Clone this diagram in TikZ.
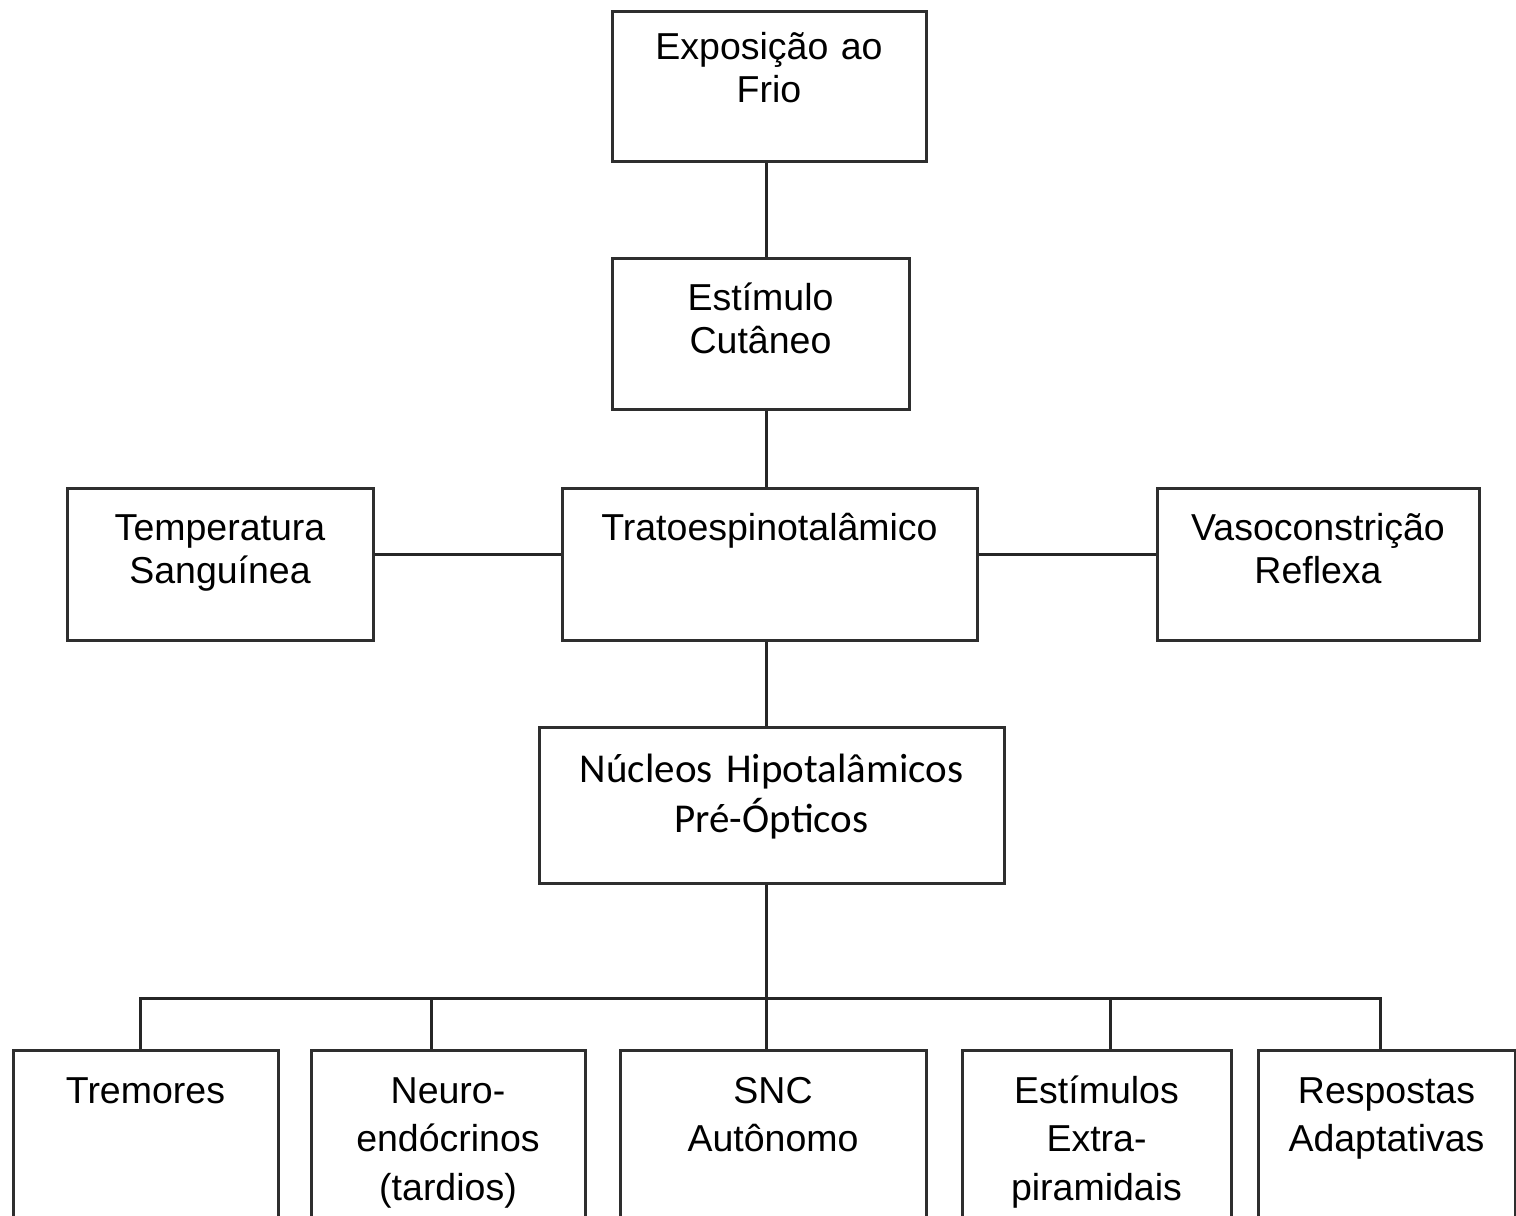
\documentclass[tikz,border=0pt]{standalone}
\usepackage{fontspec}
\setmainfont{Liberation Sans}
\newfontfamily\calibfont{Carlito}
\begin{document}
\begin{tikzpicture}[x=1pt,y=-1pt,
  bx/.style n args={3}{draw=black!82, line width=3pt, inner sep=0pt,
    text width=#1pt, minimum width=#1pt, align=center,
    text height=#2pt, text depth=#3pt,
    font=\fontsize{37.5}{43}\selectfont},
  lowbx/.style={bx={#1}{53}{147}, font=\fontsize{37.5}{48.5}\selectfont},
  conn/.style={draw=black!85, line width=3pt}]
\useasboundingbox (0,0) rectangle (1516,1216);
\clip (0,0) rectangle (1516,1216);
\fill[white] (0,0) rectangle (1516,1216);

\node[bx={314}{48}{102}] (A) at (769,86) {Exposição ao\\Frio};
\node[bx={297}{52}{99}] (B) at (760.5,333.5) {Estímulo\\Cutâneo};
\node[bx={415}{52}{100}] (C) at (769.5,564) {Tratoespinotalâmico};
\node[bx={306}{52}{100}] (D) at (220,564) {Temperatura\\Sanguínea};
\node[bx={322}{52}{100}] (E) at (1318,564) {Vasoconstrição\\Reflexa};
\node[bx={465}{55}{101}, font=\calibfont\fontsize{41}{50}\selectfont] (F) at (771.5,805) {Núcleos Hipotalâmicos\\Pré-Ópticos};

\node[lowbx=265] (G) at (145.5,1150) {Tremores};
\node[lowbx=274] (H) at (448,1150) {Neuro-\\endócrinos\\(tardios)};
\node[lowbx=306] (I) at (773,1150) {SNC\\Autônomo};
\node[lowbx=269] (J) at (1096.5,1150) {Estímulos\\Extra-\\piramidais};
\node[lowbx=257] (K) at (1386.5,1150) {Respostas\\Adaptativas};

\coordinate (spine) at (766,0);
\coordinate (hl) at (0,554);
\coordinate (d1) at (140,998);
\coordinate (d2) at (431,998);
\coordinate (d3) at (766,998);
\coordinate (d4) at (1110,998);
\coordinate (d5) at (1380,998);

\draw[conn] (A.south -| spine) -- (B.north -| spine);
\draw[conn] (B.south -| spine) -- (C.north -| spine);
\draw[conn] (C.south -| spine) -- (F.north -| spine);
\draw[conn] (D.east |- hl) -- (C.west |- hl);
\draw[conn] (C.east |- hl) -- (E.west |- hl);
\draw[conn] (F.south -| spine) -- (d3);
\draw[conn, line cap=rect] (d1) -- (d5);
\draw[conn] (d1) -- (G.north -| d1);
\draw[conn] (d2) -- (H.north -| d2);
\draw[conn] (d3) -- (I.north -| d3);
\draw[conn] (d4) -- (J.north -| d4);
\draw[conn] (d5) -- (K.north -| d5);
\end{tikzpicture}
\end{document}
